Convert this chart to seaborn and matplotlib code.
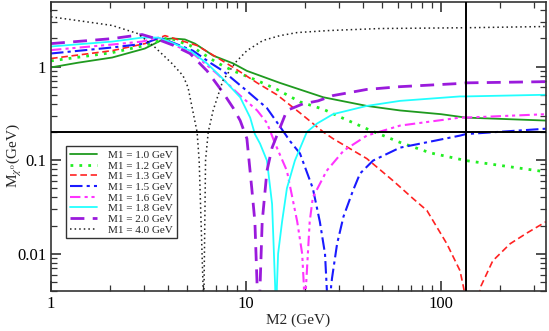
import numpy as np
import pandas as pd
import matplotlib
matplotlib.use("Agg")
import matplotlib.pyplot as plt
import seaborn as sns

# values (x = M2 in GeV, y = neutralino mass in GeV)
x_m1_10 = [1, 1.375, 2.06, 3.03, 3.75, 4.2, 4.86, 5.47, 6.78, 8.6, 10.1, 14.9, 24.9, 41.6, 61.5, 100, 134, 345]
y_m1_10 = [0.98, 1.10, 1.25, 1.56, 1.95, 2.0, 1.95, 1.76, 1.31, 1.08, 0.9, 0.67, 0.47, 0.38, 0.34, 0.31, 0.285, 0.265]

x_m1_12 = [1, 2.06, 3.03, 4.0, 5.16, 7.1, 8.6, 11.4, 14.4, 18.9, 24.9, 30.3, 43, 61.5, 87.7, 134, 345]
y_m1_12 = [1.15, 1.41, 1.68, 2.04, 1.68, 1.1, 0.9, 0.71, 0.57, 0.42, 0.35, 0.29, 0.21, 0.155, 0.12, 0.099, 0.075]

x_m1_13 = [1, 2.06, 3.03, 3.84, 5.61, 7.1, 8.6, 11.4, 14.4, 18.9, 24.9, 27.9, 41.6, 56.9, 71.7, 84.6, 107, 125, 130, 144, 160, 184, 226, 276, 345]
y_m1_13 = [1.22, 1.48, 1.76, 2.14, 1.68, 1.25, 0.98, 0.67, 0.5, 0.32, 0.2, 0.17, 0.104, 0.06, 0.039, 0.029, 0.0128, 0.0066, 0.0045, 0.0015, 0.0045, 0.0084, 0.0128, 0.0167, 0.022]

x_m1_15 = [1, 2.06, 3.03, 3.6, 5.34, 6.54, 7.61, 10.1, 12.8, 14.9, 16.8, 18.9, 22.0, 23.9, 25.4, 25.9, 26.6, 27.3, 27.6, 29.3, 31.6, 35.3, 38.4, 44.8, 61.5, 90.9, 125, 134, 345]
y_m1_15 = [1.38, 1.6, 1.76, 2.05, 1.48, 1.1, 0.9, 0.55, 0.36, 0.23, 0.16, 0.118, 0.05, 0.022, 0.01, 0.0045, 0.0015, 0.0045, 0.0055, 0.0128, 0.025, 0.047, 0.072, 0.099, 0.136, 0.16, 0.183, 0.19, 0.217]

x_m1_16 = [1, 2.06, 2.93, 3.54, 5.34, 7.1, 9.33, 11.4, 12.8, 14.1, 16.2, 18.3, 19.4, 19.8, 20.0, 20.3, 21.2, 22.0, 25.9, 31.6, 41.6, 61.5, 125, 134, 345]
y_m1_16 = [1.5, 1.72, 1.85, 2.04, 1.38, 0.84, 0.49, 0.34, 0.25, 0.15, 0.077, 0.022, 0.01, 0.0045, 0.0015, 0.0045, 0.022, 0.04, 0.077, 0.126, 0.183, 0.234, 0.285, 0.285, 0.31]

x_m1_18 = [1, 2.06, 2.93, 3.54, 4.17, 5.16, 6.31, 7.61, 9.33, 10.5, 11.1, 11.8, 12.8, 13.6, 13.9, 14.1, 14.25, 14.4, 14.6, 15.3, 16.2, 17.8, 20.5, 23.1, 27.9, 41.6, 61.5, 125, 134, 345]
y_m1_18 = [1.64, 1.85, 2.04, 2.04, 1.8, 1.48, 1.08, 0.74, 0.47, 0.285, 0.19, 0.15, 0.099, 0.034, 0.01, 0.0045, 0.0015, 0.0045, 0.01, 0.022, 0.05, 0.099, 0.2, 0.246, 0.31, 0.38, 0.43, 0.48, 0.48, 0.5]

x_m1_20 = [1, 2.06, 2.93, 3.42, 4.2, 5.16, 6.31, 7.61, 8.6, 9.33, 9.9, 10.1, 10.7, 11.1, 11.4, 11.6, 11.8, 12.1, 12.8, 13.6, 14.9, 16.2, 19.6, 23.4, 27.9, 41.6, 61.5, 125, 134, 345]
y_m1_20 = [1.76, 1.99, 2.2, 2.0, 1.7, 1.38, 0.9, 0.53, 0.36, 0.265, 0.19, 0.17, 0.05, 0.022, 0.0045, 0.0015, 0.0045, 0.022, 0.077, 0.136, 0.22, 0.34, 0.40, 0.43, 0.49, 0.57, 0.61, 0.66, 0.67, 0.69]

x_m1_40 = [1, 1.375, 2.06, 2.79, 3.42, 4.17, 4.75, 5.04, 5.61, 5.75, 6.02, 6.05, 6.09, 6.2, 6.4, 6.78, 7.61, 8.8, 10.1, 12.2, 14.9, 18.3, 26.9, 48.6, 134, 345]
y_m1_40 = [3.4, 3.1, 2.75, 2.25, 1.6, 1.08, 0.8, 0.6, 0.2, 0.099, 0.0045, 0.0015, 0.0045, 0.1, 0.2, 0.34, 0.71, 1.1, 1.48, 1.9, 2.14, 2.31, 2.43, 2.55, 2.6, 2.68]

labels = ["M1 = 1.0 GeV", "M1 = 1.2 GeV", "M1 = 1.3 GeV", "M1 = 1.5 GeV",
          "M1 = 1.6 GeV", "M1 = 1.8 GeV", "M1 = 2.0 GeV", "M1 = 4.0 GeV"]
xs = [x_m1_10, x_m1_12, x_m1_13, x_m1_15, x_m1_16, x_m1_18, x_m1_20, x_m1_40]
ys = [y_m1_10, y_m1_12, y_m1_13, y_m1_15, y_m1_16, y_m1_18, y_m1_20, y_m1_40]

m2_line = 134
m_line = 0.2

colors = ["#1f9a1f", "#22ee22", "#ff2222", "#1a1aff", "#ff33ff", "#22ffff", "#9a1adc", "#222222"]
styles = ["-", (0, (1, 2.2)), (0, (4, 2.2)), (0, (6, 2, 1.5, 2)), (0, (5, 2, 1.5, 1.8, 1.5, 2)),
          "-", (0, (5, 3)), (0, (1, 2))]
widths = [1.3, 2.0, 1.2, 1.5, 1.5, 1.3, 2.0, 1.1]

sns.set_style("ticks")
plt.rcParams["font.family"] = ["Liberation Serif", "DejaVu Serif"]
plt.rcParams["mathtext.fontset"] = "stix"

fig = plt.figure(figsize=(5.49, 3.31), dpi=100)
ax = fig.add_axes([0.0929, 0.1208, 0.9016, 0.8732])

for xv, yv, lab, c, ls, lw in zip(xs, ys, labels, colors, styles, widths):
    df = pd.DataFrame({"M2": xv, "M": yv})
    sns.lineplot(data=df, x="M2", y="M", ax=ax, color=c, linestyle=ls, linewidth=lw,
                 label=lab, sort=False, estimator=None)

ax.axhline(m_line, color="black", lw=1.4, zorder=5)
ax.axvline(m2_line, color="black", lw=1.4, zorder=5)

ax.set_xscale("log")
ax.set_yscale("log")
ax.set_xlim(1, 345)
ax.set_ylim(0.004, 4.9)

ax.set_xticks([1, 10, 100])
ax.set_xticklabels(["1", "10", "100"])
ax.set_yticks([0.01, 0.1, 1])
ax.set_yticklabels(["0.01", "0.1", "1"])
ax.tick_params(which="both", direction="in", top=True, right=True, labelsize=12, colors="#333333",
               labelcolor="black")
ax.tick_params(which="major", length=7, width=1.2)
ax.tick_params(which="minor", length=4, width=0.9)
for s in ax.spines.values():
    s.set_color("#333333")
    s.set_linewidth(1.2)

ax.set_xlabel("M2 (GeV)", fontsize=11)
ax.xaxis.set_label_coords(0.5, -0.078)
ax.set_ylabel(r"M$_{\chi^0}$(GeV)", fontsize=11)
ax.yaxis.set_label_coords(-0.055, 0.47)

leg = ax.legend(loc="upper left", bbox_to_anchor=(0.02, 0.52), fontsize=8, frameon=True,
                fancybox=False, edgecolor="#333333", framealpha=1, handlelength=2.4,
                labelspacing=0.08, borderpad=0.35, handletextpad=1.0)
leg.get_frame().set_linewidth(1.0)

fig.savefig("out.png", dpi=100)
